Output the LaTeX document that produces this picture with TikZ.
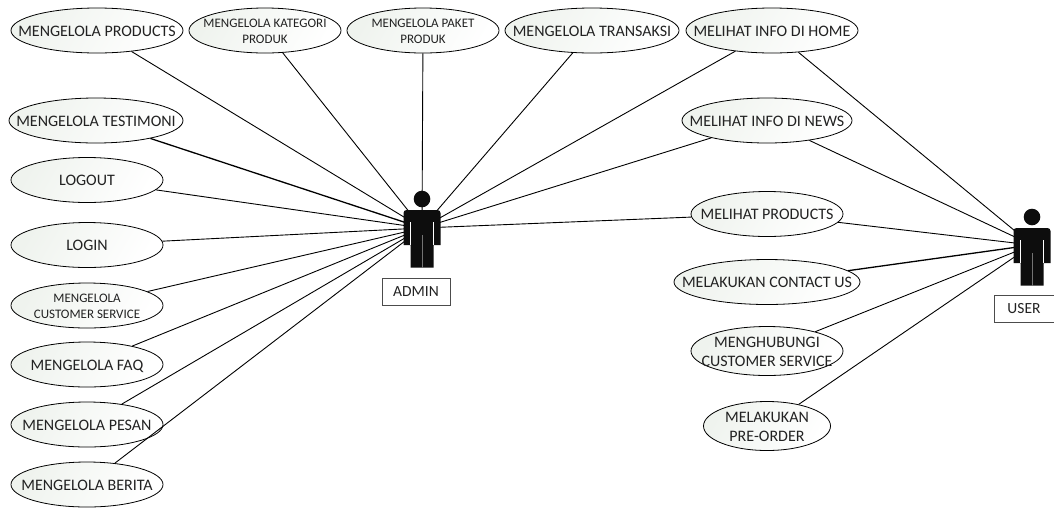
\documentclass[tikz,border=0pt]{standalone}
\usepackage{fontspec}
\setmainfont{Carlito}
\usetikzlibrary{shapes.geometric}
\definecolor{usecasefill}{HTML}{EFF3EE}
\definecolor{usecasetext}{HTML}{222222}
\definecolor{actorfill}{HTML}{0D0D0D}
\newcommand{\uctext}[1]{\smash{\makebox[0pt]{\raisebox{-.39em}{\begin{tabular}{@{}c@{}}#1\end{tabular}}}}}
\begin{document}
\begin{tikzpicture}
		[x=1pt, y=-1pt, inner sep=0pt,
		usecase/.style	= {ellipse,draw,line width=.8pt,minimum width=152pt,minimum height=45pt,
			left color=usecasefill,right color=white,shading angle=60,text=usecasetext,font=\fontsize{16}{19}\selectfont},
		smalltext/.style	= {font=\fontsize{13}{16}\selectfont},
		caption/.style	= {rectangle,draw=black!70,line width=.8pt,text=usecasetext,font=\fontsize{15.5}{17}\selectfont},
		paths/.style	= {line width=.9pt},
		doubled/.style	= {line width=1.3pt},
		actor/.style	= {fill=actorfill,draw=none}]
		
		\useasboundingbox (0,0) rectangle (1054,507);
		
		\node at (97, 30.5)		[usecase, minimum width=172pt]	(products)	{\uctext{MENGELOLA PRODUCTS}};
		\node at (265, 30.5)	[usecase, smalltext]	(kategori)	{\uctext{MENGELOLA KATEGORI\\PRODUK}};
		\node at (423, 30.5)	[usecase, smalltext]	(paket)		{\uctext{MENGELOLA PAKET\\PRODUK}};
		\node at (592, 30.5)	[usecase, minimum width=174pt]	(transaksi)	{\uctext{MENGELOLA TRANSAKSI}};
		\node at (772, 30.5)	[usecase, minimum width=172pt]	(home)		{\uctext{MELIHAT INFO DI HOME}};
		
		\node at (96, 120.5)	[usecase, minimum width=174pt]	(testimoni)	{\uctext{MENGELOLA TESTIMONI}};
		\node at (87, 180)		[usecase]	(logout)	{\uctext{LOGOUT}};
		\node at (87, 245)		[usecase]	(login)		{\uctext{LOGIN}};
		\node at (87, 305.5)	[usecase, smalltext]	(cs)		{\uctext{MENGELOLA\\CUSTOMER SERVICE}};
		\node at (87, 364.5)	[usecase]	(faq)		{\uctext{MENGELOLA FAQ}};
		\node at (87, 424.5)	[usecase]	(pesan)		{\uctext{MENGELOLA PESAN}};
		\node at (87, 484.5)	[usecase]	(berita)	{\uctext{MENGELOLA BERITA}};
		
		\node at (767, 120.5)	[usecase, minimum width=170pt]	(news)		{\uctext{MELIHAT INFO DI NEWS}};
		\node at (767, 214)		[usecase]	(melihat)	{\uctext{MELIHAT PRODUCTS}};
		\node at (767, 282)		[usecase, minimum width=186pt]	(contact)	{\uctext{MELAKUKAN CONTACT US}};
		\node at (767, 351)		[usecase, minimum height=49pt]	(hubungi)	{\uctext{MENGHUBUNGI\\CUSTOMER SERVICE}};
		\node at (767, 426)		[usecase, minimum width=127pt, minimum height=49pt]	(preorder)	{\uctext{MELAKUKAN\\PRE-ORDER}};
		
		\coordinate (admin) at (422, 228);
		\coordinate (user) at (1032, 245);
		
		\node at (416, 291.5)	[caption, minimum width=68pt, minimum height=27pt]	(adminlabel)	{ADMIN};
		\node at (1024, 308.5)	[caption, minimum width=60pt, minimum height=27pt]	(userlabel)		{USER};
		
		\draw [paths] (products) -- (admin);
		\draw [paths] (kategori) -- (admin);
		\draw [paths] (paket) -- (admin);
		\draw [paths] (transaksi) -- (admin);
		\draw [paths] (home) -- (admin);
		
		\draw [paths, doubled] (testimoni) -- (admin);
		\draw [paths] (logout) -- (admin);
		\draw [paths] (login) -- (admin);
		\draw [paths] (cs) -- (admin);
		\draw [paths] (faq) -- (admin);
		\draw [paths] (pesan) -- (admin);
		\draw [paths] (berita) -- (admin);
		
		\draw [paths] (news) -- (admin);
		\draw [paths] (melihat) -- (admin);
		
		\draw [paths] (home) -- (user);
		\draw [paths] (news) -- (user);
		\draw [paths] (melihat) -- (user);
		\draw [paths, doubled] (contact) -- (user);
		\draw [paths] (hubungi) -- (user);
		\draw [paths] (preorder) -- (user);
		
		\foreach \actorname/\ax/\ay in {admin/422/228, user/1032/246}
		{
			\fill [actor] (\ax, \ay-29) circle (8.3);
			\fill [actor] (\ax-18.5, \ay+17) [rounded corners=3pt] -- (\ax-18.5, \ay-18) -- (\ax+18.5, \ay-18) [sharp corners] -- (\ax+18.5, \ay+17) -- (\ax+11.5, \ay+17) -- (\ax+11.5, \ay+39.5) -- (\ax-11.5, \ay+39.5) -- (\ax-11.5, \ay+17) -- cycle;
			\draw [white, line width=.4pt] (\ax-11.5, \ay+17) -- (\ax-11.5, \ay-6) (\ax+11.5, \ay+17) -- (\ax+11.5, \ay-6);
			\draw [black!55, line width=.4pt] (\ax, \ay+7) -- (\ax, \ay+39.5);
		}
		
		\end{tikzpicture}
\end{document}
